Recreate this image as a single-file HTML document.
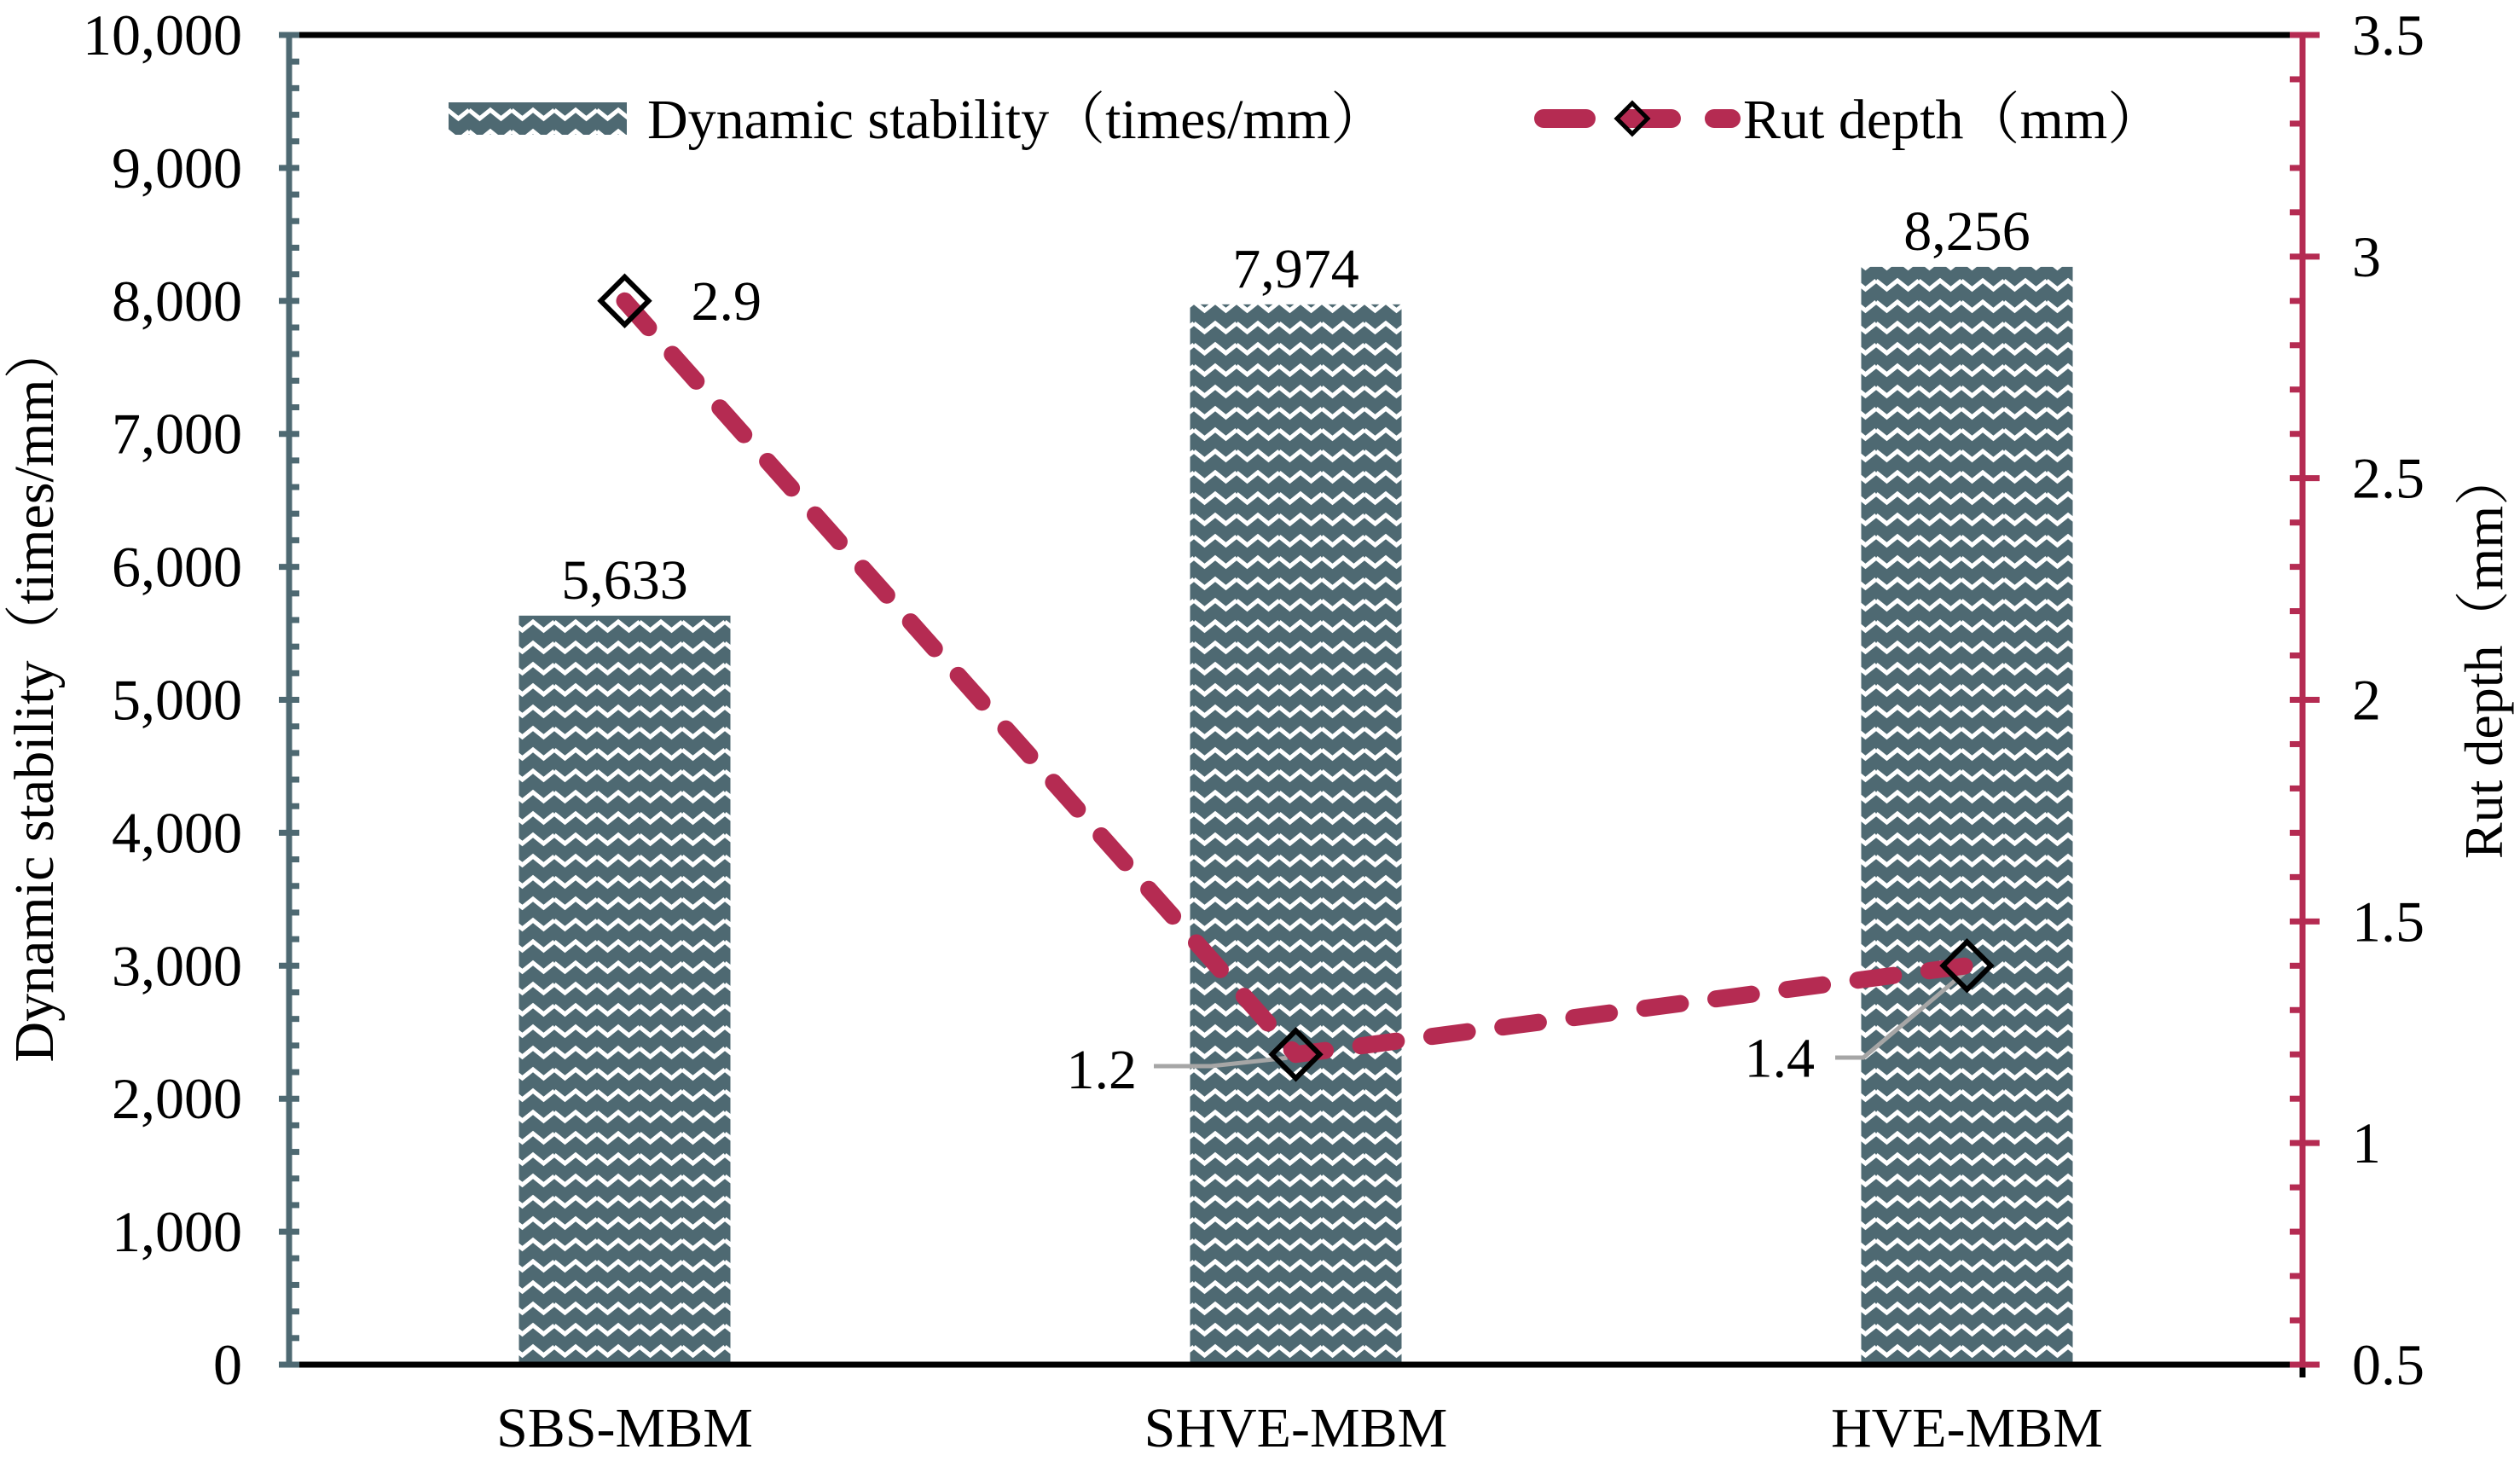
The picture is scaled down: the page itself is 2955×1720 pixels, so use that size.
<!DOCTYPE html>
<html><head><meta charset="utf-8"><style>
html,body{margin:0;padding:0;background:#fff;}
svg{display:block;font-family:"Liberation Serif","Noto Serif CJK SC",serif;}
</style></head><body>
<svg id="chart" width="2955" height="1720" viewBox="0 0 2955 1720">
<defs>
<pattern id="zig" patternUnits="userSpaceOnUse" width="50" height="25">
<rect width="50" height="25" fill="#4e6972"/>
<polyline points="0,4 12.5,14 25,4 37.5,14 50,4" fill="none" stroke="#fff" stroke-width="5"/>
</pattern>
</defs>
</svg>
<script>
const categories = ["SBS-MBM", "SHVE-MBM", "HVE-MBM"];
const stabilityValues = [5633, 7974, 8256];
const stabilityLabels = ["5,633", "7,974", "8,256"];
const rutValues = [2.9, 1.2, 1.4];
const rutLabels = ["2.9", "1.2", "1.4"];
const leftTicks = [0,1000,2000,3000,4000,5000,6000,7000,8000,9000,10000];
const leftTickLabels = ["0","1,000","2,000","3,000","4,000","5,000","6,000","7,000","8,000","9,000","10,000"];
const rightTicks = [0.5,1,1.5,2,2.5,3,3.5];
const rightTickLabels = ["0.5","1","1.5","2","2.5","3","3.5"];

const NS = "http://www.w3.org/2000/svg";
const svg = document.getElementById("chart");
const X0 = 339, X1 = 2700, YT = 41, YB = 1600;
const yL = v => YB - v / 10000 * (YB - YT);
const yR = v => YB - (v - 0.5) / 3 * (YB - YT);
const band = (X1 - X0) / categories.length;
const xC = i => X0 + band * (i + 0.5);
const SLATE = "#4e6972", RED = "#b52b52";

function mk(tag, attrs, text) {
  const e = document.createElementNS(NS, tag);
  for (const k in attrs) e.setAttribute(k, attrs[k]);
  if (text !== undefined) e.textContent = text;
  svg.appendChild(e);
  return e;
}

stabilityValues.forEach((v, i) => {
  const b = mk("rect", {x: xC(i) - 124, y: yL(v), width: 248, height: YB - yL(v), fill: "url(#zig)"});
  
  
  const t = mk("text", {x: xC(i), y: yL(v) - 20, "text-anchor": "middle", "font-size": 66}, stabilityLabels[i]);
  
  
});

let e;
e = mk("line", {x1: X0, y1: YT, x2: X1, y2: YT, stroke: "#000", "stroke-width": 7});


e = mk("line", {x1: X0, y1: YB, x2: X1 + 3, y2: YB, stroke: "#000", "stroke-width": 7});


e = mk("line", {x1: X1, y1: YB, x2: X1, y2: YB + 15, stroke: "#000", "stroke-width": 7});


e = mk("line", {x1: X0, y1: YT, x2: X0, y2: YB, stroke: SLATE, "stroke-width": 7});


e = mk("line", {x1: X1, y1: YT, x2: X1, y2: YB, stroke: RED, "stroke-width": 7});



for (let v = 0; v <= 10000; v += 200) {
  const major = v % 1000 === 0;
  const t = mk("line", {x1: major ? X0 - 12 : X0, y1: yL(v), x2: X0 + 12, y2: yL(v), stroke: SLATE, "stroke-width": 7});
  
  
}
leftTicks.forEach((v, i) => {
  const t = mk("text", {x: 284, y: yL(v) + 23, "text-anchor": "end", "font-size": 68}, leftTickLabels[i]);
  
  
});
for (let k = 0; k <= 30; k++) {
  const v = 0.5 + k * 0.1;
  const major = k % 5 === 0;
  const t = mk("line", {x1: X1 - 15, y1: yR(v), x2: major ? X1 + 20 : X1, y2: yR(v), stroke: RED, "stroke-width": 7});
  
  
}
rightTicks.forEach((v, i) => {
  const t = mk("text", {x: 2758, y: yR(v) + 23, "font-size": 68}, rightTickLabels[i]);
  
  
});
categories.forEach((c, i) => {
  const t = mk("text", {x: xC(i), y: 1696, "text-anchor": "middle", "font-size": 66}, c);
  
  
});
e = mk("text", {x: 0, y: 0, transform: "translate(62,812) rotate(-90)", "text-anchor": "middle", "font-size": 66}, "Dynamic stability（times/mm）");


e = mk("text", {x: 0, y: 0, transform: "translate(2934,768) rotate(-90)", "text-anchor": "middle", "font-size": 64}, "Rut depth（mm）");



e = mk("polyline", {points: "1353,1250 1420,1250 " + (xC(1) - 10) + "," + (yR(rutValues[1]) + 4), fill: "none", stroke: "#a6a6a6", "stroke-width": 5});


e = mk("polyline", {points: "2152,1240 2185,1240 " + (xC(2) + 2) + "," + (yR(rutValues[2]) + 4), fill: "none", stroke: "#a6a6a6", "stroke-width": 5});



const pts = rutValues.map((v, i) => xC(i) + "," + yR(v)).join(" ");
e = mk("polyline", {points: pts, fill: "none", stroke: RED, "stroke-width": 20, "stroke-dasharray": "42 42", "stroke-linecap": "round", "stroke-linejoin": "round"});


rutValues.forEach((v, i) => {
  const cx = xC(i), cy = yR(v), r = 28;
  const d = mk("polygon", {points: `${cx},${cy - r} ${cx + r},${cy} ${cx},${cy + r} ${cx - r},${cy}`, fill: "none", stroke: "#000", "stroke-width": 6});
  
  
});
const rl = [
  {x: xC(0) + 78, y: yR(rutValues[0]) + 22, a: "start"},
  {x: 1333, y: yR(rutValues[1]) + 40, a: "end"},
  {x: 2128, y: yR(rutValues[2]) + 130, a: "end"}
];
rl.forEach((p, i) => {
  const t = mk("text", {x: p.x, y: p.y, "text-anchor": p.a, "font-size": 66}, rutLabels[i]);
  
  
});

e = mk("rect", {x: 526, y: 120, width: 209, height: 38, fill: "url(#zig)"});


e = mk("text", {x: 759, y: 162, "font-size": 66}, "Dynamic stability（times/mm）");


e = mk("line", {x1: 1810, y1: 139, x2: 2030, y2: 139, stroke: RED, "stroke-width": 22, "stroke-dasharray": "50 50", "stroke-linecap": "round"});


e = mk("polygon", {points: "1914,121 1932,139 1914,157 1896,139", fill: "none", stroke: "#000", "stroke-width": 5});


e = mk("text", {x: 2044, y: 162, "font-size": 66}, "Rut depth（mm）");


</script>
</body></html>
